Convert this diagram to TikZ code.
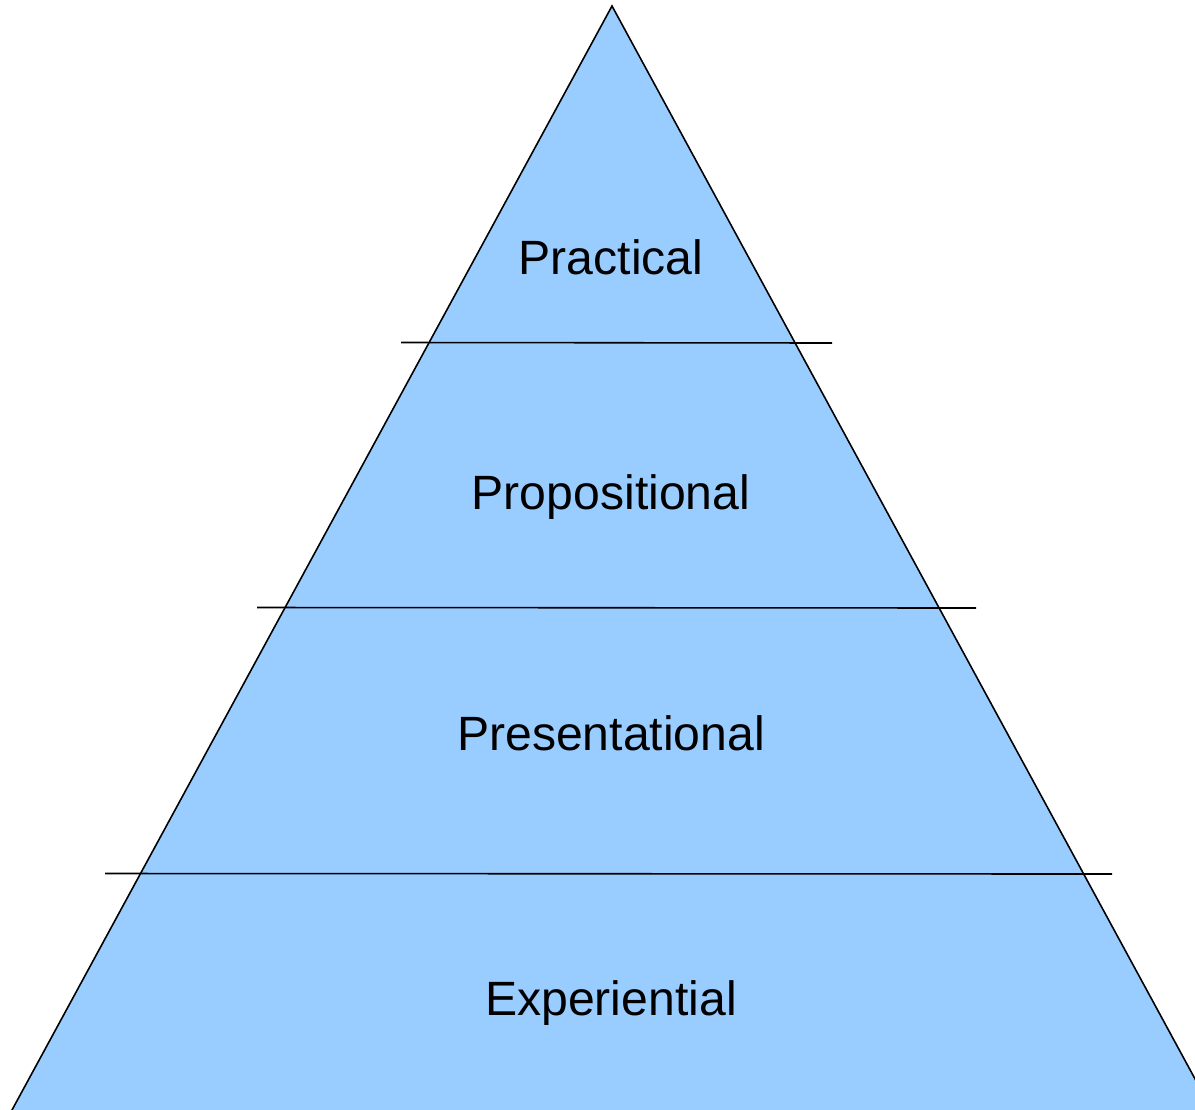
\documentclass[tikz,border=0pt]{standalone}
\usepackage{fontspec}
\setmainfont{Liberation Sans}
\usepackage{tikz}
\usetikzlibrary{shapes.geometric}
\definecolor{layerBlue}{HTML}{99CCFF}
\tikzstyle{levelNode} = [inner sep=0pt, anchor=base, font=\fontsize{27.4}{33}\selectfont]
\tikzstyle{divider} = [thin, black, line width=0.9pt]

\begin{document}
\begin{tikzpicture}[x=0.02cm, y=-0.02cm]
        \useasboundingbox (0,0) rectangle (1195,1109);
        \clip (0,0) rectangle (1195,1109);
        \coordinate (top) at (612,6);
        \coordinate (baseL) at (10.9,1112);
        \coordinate (baseR) at (1213,1112);
        \filldraw [fill=layerBlue, draw=black, line width=0.9pt] (top) -- (baseR) -- (baseL) -- cycle;

        \coordinate (cutAL) at (401,342.5);
        \coordinate (cutAR) at (832,343);
        \coordinate (cutBL) at (257,607.5);
        \coordinate (cutBR) at (976,608);
        \coordinate (cutCL) at (105,873.5);
        \coordinate (cutCR) at (1112,874);
        \draw [divider] (cutAL) -- (cutAR);
        \draw [divider] (cutBL) -- (cutBR);
        \draw [divider] (cutCL) -- (cutCR);

        \node (practical) [levelNode] at (611,274) {Practical};
        \node (propositional) [levelNode] at (611,509) {Propositional};
        \node (presentational) [levelNode] at (611,750) {Presentational};
        \node (experiential) [levelNode] at (611,1015) {Experiential};
    \end{tikzpicture}
\end{document}
